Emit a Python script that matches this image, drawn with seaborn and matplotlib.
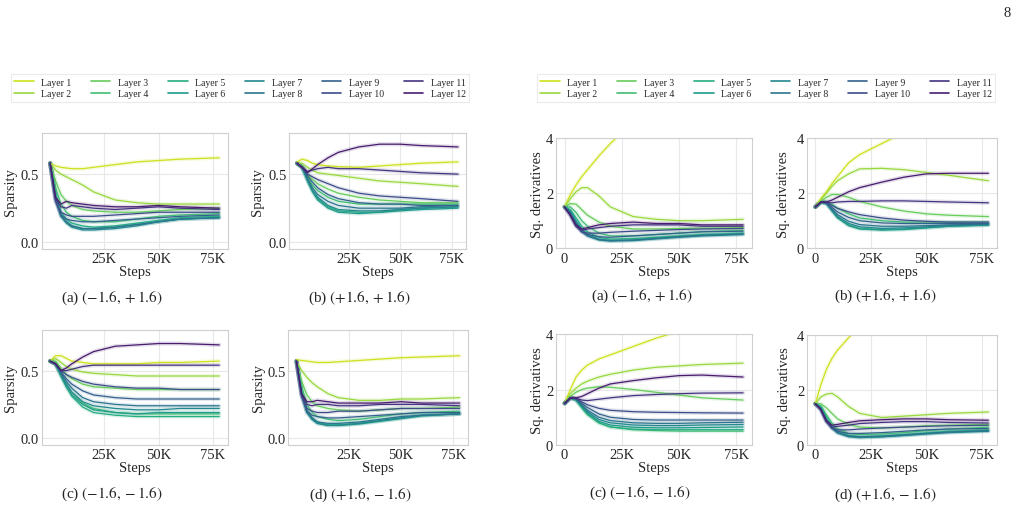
import numpy as np
import pandas as pd
import matplotlib
matplotlib.use("Agg")
import matplotlib.pyplot as plt
from matplotlib.lines import Line2D
import seaborn as sns

# ---------------- data ----------------
steps = [0, 2500, 5000, 7500, 10000, 15000, 20000, 30000, 40000, 50000, 60000, 78000]
layers = [f"Layer {i}" for i in range(1, 13)]

spars_a = [
    [0.58, 0.56, 0.55, 0.545, 0.54, 0.54, 0.55, 0.57, 0.59, 0.60, 0.61, 0.62],
    [0.58, 0.53, 0.50, 0.48, 0.46, 0.42, 0.37, 0.31, 0.29, 0.28, 0.28, 0.28],
    [0.58, 0.45, 0.35, 0.30, 0.27, 0.24, 0.23, 0.22, 0.22, 0.23, 0.24, 0.25],
    [0.58, 0.40, 0.28, 0.22, 0.19, 0.16, 0.15, 0.15, 0.17, 0.19, 0.20, 0.21],
    [0.58, 0.36, 0.22, 0.17, 0.14, 0.12, 0.11, 0.12, 0.14, 0.16, 0.18, 0.19],
    [0.58, 0.34, 0.20, 0.15, 0.12, 0.10, 0.10, 0.11, 0.13, 0.15, 0.17, 0.18],
    [0.58, 0.33, 0.19, 0.14, 0.11, 0.09, 0.09, 0.10, 0.12, 0.15, 0.17, 0.18],
    [0.58, 0.32, 0.19, 0.15, 0.12, 0.10, 0.10, 0.11, 0.13, 0.15, 0.17, 0.18],
    [0.58, 0.30, 0.20, 0.17, 0.16, 0.15, 0.15, 0.16, 0.17, 0.18, 0.19, 0.20],
    [0.58, 0.30, 0.22, 0.20, 0.19, 0.19, 0.19, 0.20, 0.21, 0.22, 0.22, 0.22],
    [0.58, 0.32, 0.26, 0.25, 0.27, 0.26, 0.25, 0.24, 0.25, 0.26, 0.25, 0.24],
    [0.58, 0.33, 0.28, 0.30, 0.29, 0.28, 0.27, 0.26, 0.26, 0.27, 0.26, 0.25],
]
spars_b = [
    [0.59, 0.61, 0.60, 0.58, 0.57, 0.56, 0.555, 0.55, 0.56, 0.57, 0.58, 0.59],
    [0.58, 0.58, 0.55, 0.53, 0.51, 0.50, 0.49, 0.47, 0.45, 0.44, 0.43, 0.41],
    [0.58, 0.56, 0.50, 0.46, 0.43, 0.39, 0.36, 0.33, 0.31, 0.30, 0.29, 0.29],
    [0.58, 0.55, 0.48, 0.42, 0.38, 0.33, 0.30, 0.28, 0.28, 0.28, 0.28, 0.28],
    [0.58, 0.55, 0.46, 0.38, 0.32, 0.26, 0.23, 0.22, 0.22, 0.24, 0.25, 0.26],
    [0.58, 0.55, 0.45, 0.37, 0.31, 0.25, 0.22, 0.21, 0.22, 0.23, 0.24, 0.25],
    [0.58, 0.55, 0.46, 0.38, 0.33, 0.27, 0.24, 0.23, 0.23, 0.24, 0.25, 0.26],
    [0.58, 0.55, 0.47, 0.40, 0.35, 0.30, 0.27, 0.25, 0.25, 0.25, 0.26, 0.27],
    [0.58, 0.55, 0.49, 0.44, 0.40, 0.35, 0.32, 0.29, 0.28, 0.28, 0.27, 0.27],
    [0.58, 0.55, 0.50, 0.48, 0.46, 0.43, 0.40, 0.36, 0.34, 0.33, 0.32, 0.30],
    [0.58, 0.55, 0.52, 0.53, 0.54, 0.55, 0.54, 0.54, 0.53, 0.52, 0.51, 0.50],
    [0.58, 0.55, 0.51, 0.54, 0.57, 0.62, 0.66, 0.70, 0.72, 0.72, 0.71, 0.70],
]
spars_c = [
    [0.57, 0.61, 0.61, 0.59, 0.57, 0.56, 0.55, 0.55, 0.55, 0.56, 0.56, 0.57],
    [0.57, 0.59, 0.56, 0.53, 0.51, 0.49, 0.48, 0.47, 0.46, 0.46, 0.46, 0.46],
    [0.57, 0.57, 0.52, 0.47, 0.44, 0.40, 0.38, 0.37, 0.36, 0.36, 0.36, 0.36],
    [0.57, 0.55, 0.47, 0.40, 0.34, 0.26, 0.22, 0.19, 0.18, 0.18, 0.18, 0.18],
    [0.57, 0.55, 0.46, 0.38, 0.31, 0.23, 0.19, 0.17, 0.16, 0.16, 0.16, 0.16],
    [0.57, 0.55, 0.46, 0.38, 0.32, 0.25, 0.21, 0.19, 0.18, 0.19, 0.19, 0.19],
    [0.57, 0.55, 0.47, 0.40, 0.34, 0.27, 0.24, 0.22, 0.21, 0.21, 0.22, 0.22],
    [0.57, 0.55, 0.48, 0.42, 0.37, 0.30, 0.27, 0.25, 0.24, 0.24, 0.24, 0.24],
    [0.57, 0.55, 0.49, 0.44, 0.40, 0.35, 0.32, 0.30, 0.29, 0.29, 0.29, 0.29],
    [0.57, 0.55, 0.50, 0.47, 0.45, 0.42, 0.40, 0.38, 0.37, 0.37, 0.36, 0.36],
    [0.57, 0.55, 0.50, 0.50, 0.51, 0.53, 0.54, 0.54, 0.54, 0.54, 0.54, 0.54],
    [0.57, 0.55, 0.50, 0.52, 0.55, 0.60, 0.64, 0.68, 0.69, 0.70, 0.70, 0.69],
]
spars_d = [
    [0.58, 0.575, 0.57, 0.565, 0.56, 0.56, 0.565, 0.575, 0.585, 0.595, 0.60, 0.61],
    [0.57, 0.50, 0.45, 0.41, 0.38, 0.33, 0.30, 0.28, 0.28, 0.29, 0.29, 0.30],
    [0.57, 0.42, 0.32, 0.27, 0.24, 0.22, 0.21, 0.20, 0.21, 0.22, 0.22, 0.23],
    [0.57, 0.38, 0.25, 0.19, 0.16, 0.14, 0.13, 0.14, 0.16, 0.18, 0.19, 0.20],
    [0.57, 0.35, 0.21, 0.15, 0.12, 0.10, 0.10, 0.11, 0.13, 0.15, 0.17, 0.18],
    [0.57, 0.34, 0.20, 0.14, 0.11, 0.095, 0.095, 0.105, 0.125, 0.145, 0.165, 0.18],
    [0.57, 0.33, 0.19, 0.14, 0.11, 0.095, 0.095, 0.11, 0.13, 0.15, 0.17, 0.18],
    [0.57, 0.32, 0.19, 0.15, 0.12, 0.11, 0.11, 0.12, 0.14, 0.16, 0.17, 0.18],
    [0.57, 0.31, 0.20, 0.17, 0.16, 0.15, 0.15, 0.16, 0.17, 0.18, 0.19, 0.19],
    [0.57, 0.31, 0.22, 0.20, 0.19, 0.19, 0.20, 0.20, 0.21, 0.22, 0.22, 0.22],
    [0.57, 0.32, 0.25, 0.24, 0.25, 0.25, 0.24, 0.24, 0.25, 0.25, 0.25, 0.24],
    [0.57, 0.33, 0.27, 0.27, 0.28, 0.27, 0.26, 0.26, 0.26, 0.27, 0.26, 0.26],
]
deriv_a = [
    [1.5, 1.95, 2.3, 2.6, 2.85, 3.35, 3.8, 4.6, 5.3, 6.0, 6.6, 7.5],
    [1.5, 1.8, 2.05, 2.2, 2.2, 1.9, 1.5, 1.15, 1.05, 1.0, 1.0, 1.05],
    [1.5, 1.62, 1.6, 1.4, 1.2, 0.95, 0.8, 0.7, 0.7, 0.72, 0.73, 0.75],
    [1.5, 1.5, 1.3, 1.0, 0.8, 0.55, 0.45, 0.45, 0.5, 0.55, 0.6, 0.65],
    [1.5, 1.4, 1.1, 0.8, 0.6, 0.4, 0.33, 0.35, 0.4, 0.45, 0.5, 0.55],
    [1.5, 1.35, 1.0, 0.7, 0.5, 0.33, 0.28, 0.3, 0.36, 0.42, 0.47, 0.52],
    [1.5, 1.3, 0.95, 0.65, 0.45, 0.3, 0.26, 0.28, 0.34, 0.4, 0.45, 0.5],
    [1.5, 1.3, 0.9, 0.6, 0.45, 0.32, 0.28, 0.3, 0.36, 0.42, 0.47, 0.52],
    [1.5, 1.25, 0.85, 0.6, 0.5, 0.42, 0.4, 0.45, 0.5, 0.55, 0.6, 0.62],
    [1.5, 1.2, 0.8, 0.6, 0.55, 0.55, 0.58, 0.62, 0.65, 0.68, 0.7, 0.72],
    [1.5, 1.2, 0.8, 0.65, 0.7, 0.75, 0.8, 0.85, 0.85, 0.85, 0.8, 0.8],
    [1.5, 1.2, 0.85, 0.7, 0.75, 0.85, 0.9, 0.95, 0.9, 0.9, 0.85, 0.85],
]
deriv_b = [
    [1.5, 1.8, 2.05, 2.35, 2.6, 3.1, 3.4, 3.8, 4.2, 4.5, 4.8, 5.2],
    [1.5, 1.75, 2.0, 2.25, 2.45, 2.7, 2.88, 2.9, 2.85, 2.75, 2.65, 2.45],
    [1.5, 1.7, 1.85, 1.95, 1.95, 1.85, 1.7, 1.5, 1.35, 1.25, 1.2, 1.15],
    [1.5, 1.68, 1.7, 1.6, 1.45, 1.25, 1.1, 1.0, 0.95, 0.95, 0.95, 0.95],
    [1.5, 1.68, 1.65, 1.4, 1.15, 0.85, 0.72, 0.68, 0.7, 0.75, 0.8, 0.85],
    [1.5, 1.68, 1.62, 1.35, 1.1, 0.82, 0.7, 0.66, 0.68, 0.74, 0.8, 0.84],
    [1.5, 1.68, 1.62, 1.38, 1.15, 0.9, 0.78, 0.72, 0.74, 0.78, 0.82, 0.86],
    [1.5, 1.68, 1.63, 1.42, 1.22, 0.98, 0.86, 0.8, 0.8, 0.82, 0.85, 0.88],
    [1.5, 1.68, 1.65, 1.48, 1.32, 1.12, 1.0, 0.92, 0.9, 0.9, 0.9, 0.9],
    [1.5, 1.68, 1.66, 1.55, 1.45, 1.32, 1.22, 1.1, 1.02, 0.98, 0.95, 0.95],
    [1.5, 1.68, 1.66, 1.65, 1.68, 1.7, 1.7, 1.72, 1.72, 1.7, 1.68, 1.65],
    [1.5, 1.68, 1.68, 1.75, 1.85, 2.05, 2.2, 2.4, 2.58, 2.7, 2.72, 2.72],
]
deriv_c = [
    [1.5, 2.0, 2.45, 2.7, 2.88, 3.1, 3.25, 3.55, 3.85, 4.1, 4.3, 4.6],
    [1.5, 1.85, 2.05, 2.2, 2.3, 2.45, 2.55, 2.7, 2.8, 2.85, 2.9, 2.95],
    [1.5, 1.75, 1.9, 2.0, 2.05, 2.1, 2.08, 2.0, 1.9, 1.8, 1.7, 1.62],
    [1.5, 1.7, 1.62, 1.35, 1.1, 0.8, 0.65, 0.55, 0.52, 0.5, 0.5, 0.5],
    [1.5, 1.7, 1.62, 1.35, 1.1, 0.8, 0.65, 0.57, 0.55, 0.55, 0.55, 0.55],
    [1.5, 1.7, 1.62, 1.38, 1.15, 0.85, 0.72, 0.64, 0.62, 0.62, 0.63, 0.65],
    [1.5, 1.7, 1.64, 1.42, 1.2, 0.92, 0.8, 0.72, 0.7, 0.7, 0.72, 0.74],
    [1.5, 1.7, 1.65, 1.45, 1.25, 1.0, 0.88, 0.8, 0.78, 0.78, 0.8, 0.82],
    [1.5, 1.7, 1.66, 1.5, 1.35, 1.12, 1.0, 0.92, 0.9, 0.9, 0.9, 0.9],
    [1.5, 1.7, 1.68, 1.55, 1.45, 1.32, 1.25, 1.2, 1.18, 1.17, 1.16, 1.15],
    [1.5, 1.7, 1.68, 1.62, 1.6, 1.65, 1.7, 1.78, 1.82, 1.85, 1.87, 1.88],
    [1.5, 1.7, 1.7, 1.75, 1.85, 2.05, 2.2, 2.32, 2.42, 2.5, 2.52, 2.45],
]
deriv_d = [
    [1.5, 2.2, 2.75, 3.15, 3.45, 3.9, 4.3, 5.0, 5.6, 6.2, 6.7, 7.5],
    [1.5, 1.75, 1.85, 1.88, 1.75, 1.4, 1.15, 1.0, 1.05, 1.1, 1.15, 1.2],
    [1.5, 1.5, 1.35, 1.15, 0.95, 0.75, 0.65, 0.62, 0.65, 0.7, 0.72, 0.75],
    [1.5, 1.42, 1.1, 0.8, 0.6, 0.42, 0.38, 0.4, 0.45, 0.52, 0.58, 0.65],
    [1.5, 1.38, 1.0, 0.7, 0.5, 0.35, 0.3, 0.33, 0.38, 0.44, 0.5, 0.55],
    [1.5, 1.35, 0.95, 0.65, 0.45, 0.32, 0.28, 0.3, 0.35, 0.42, 0.47, 0.52],
    [1.5, 1.33, 0.92, 0.62, 0.44, 0.3, 0.27, 0.3, 0.35, 0.4, 0.45, 0.5],
    [1.5, 1.32, 0.9, 0.62, 0.45, 0.33, 0.3, 0.32, 0.37, 0.42, 0.47, 0.52],
    [1.5, 1.3, 0.88, 0.62, 0.5, 0.42, 0.42, 0.45, 0.5, 0.55, 0.58, 0.6],
    [1.5, 1.28, 0.85, 0.62, 0.55, 0.55, 0.58, 0.62, 0.65, 0.68, 0.7, 0.72],
    [1.5, 1.28, 0.85, 0.65, 0.68, 0.72, 0.78, 0.82, 0.85, 0.85, 0.82, 0.8],
    [1.5, 1.3, 0.88, 0.72, 0.75, 0.82, 0.88, 0.92, 0.95, 0.95, 0.92, 0.9],
]
captions = ["(a) $(-1.6, +1.6)$", "(b) $(+1.6, +1.6)$",
            "(c) $(-1.6, -1.6)$", "(d) $(+1.6, -1.6)$"]
sparsity_ticks = [25000, 50000, 75000]
deriv_ticks = [0, 25000, 50000, 75000]
x_ticklabels_sp = ["25K", "50K", "75K"]
x_ticklabels_dv = ["0", "25K", "50K", "75K"]

# ---------------- style ----------------
sns.set_theme(style="whitegrid", rc={
    "grid.color": "#e8e8e8", "axes.edgecolor": "#cfcfcf", "axes.linewidth": 0.8,
    "grid.linewidth": 0.8,
})
plt.rcParams["font.family"] = ["Liberation Serif", "DejaVu Serif"]
plt.rcParams["mathtext.fontset"] = "stix"

W, H = 1023, 510
fig = plt.figure(figsize=(W / 100, H / 100), dpi=100)
pal = sns.color_palette("viridis_r", 12)


def rect(l, t, r, b):
    return [l / W, 1 - b / H, (r - l) / W, (b - t) / H]


def long_df(series):
    rows = []
    for lay, vals in zip(layers, series):
        for s, v in zip(steps, vals):
            rows.append((s, v, lay))
    return pd.DataFrame(rows, columns=["step", "value", "layer"])


panels = [
    (spars_a, (41.7, 134.3, 227.7, 250), "sp", 0, -0.131, (112, 298)),
    (spars_b, (289, 134.3, 466, 250), "sp", 1, -0.141, (359, 298)),
    (spars_c, (41.7, 331, 227.7, 446), "sp", 2, -0.131, (112, 494)),
    (spars_d, (288.3, 331, 467.7, 446), "sp", 3, -0.13, (360, 495)),
    (deriv_a, (555.7, 139, 752, 249.3), "dv", 0, -0.06, (642, 296)),
    (deriv_b, (806.7, 139, 997, 249.3), "dv", 1, -0.088, (885, 296)),
    (deriv_c, (555.7, 335, 752, 446), "dv", 2, -0.06, (640, 493)),
    (deriv_d, (806.7, 336, 997, 446), "dv", 3, -0.084, (885, 495)),
]

for data, r, kind, ci, ylx, cpos in panels:
    ax = fig.add_axes(rect(*r))
    df = long_df(data)
    sns.lineplot(data=df, x="step", y="value", hue="layer", palette=pal,
                 ax=ax, legend=False, linewidth=3.0, alpha=0.15)
    sns.lineplot(data=df, x="step", y="value", hue="layer", palette=pal,
                 ax=ax, legend=False, linewidth=0.9)
    ax.set_xlim(-3900, 81900)
    if kind == "sp":
        ax.set_ylim(-0.05, 0.8)
        ax.set_yticks([0.0, 0.5])
        ax.set_yticklabels(["0.0", "0.5"])
        ax.set_xticks(sparsity_ticks)
        ax.set_xticklabels(x_ticklabels_sp)
        ax.set_ylabel("Sparsity", fontsize=10.5)
    else:
        ax.set_ylim(0, 4)
        ax.set_yticks([0, 2, 4])
        ax.set_yticklabels(["0", "2", "4"])
        ax.set_xticks(deriv_ticks)
        ax.set_xticklabels(x_ticklabels_dv)
        ax.set_ylabel("Sq. derivatives", fontsize=10.5)
    ax.set_xlabel("Steps", fontsize=10.5, labelpad=0)
    ax.yaxis.set_label_coords(ylx, 0.5)
    ax.tick_params(axis="both", labelsize=10.5, length=0)
    ax.tick_params(axis="y", pad=1.8)
    ax.tick_params(axis="x", pad=2.5)
    for sp in ax.spines.values():
        sp.set_visible(True)
        sp.set_color("#cfcfcf")
    fig.text(cpos[0] / W, 1 - cpos[1] / H, captions[ci], ha="center",
             va="center", fontsize=11)

# legends
handles = [Line2D([0], [0], color=pal[i], lw=1.2) for i in range(12)]
for cx in (240, 766):
    leg = fig.legend(handles, layers, loc="center",
                     bbox_to_anchor=(cx / W, 1 - 89 / H), ncol=6,
                     fontsize=7, handlelength=2.0, handletextpad=0.8,
                     columnspacing=2.0, labelspacing=0.3, borderpad=0.35,
                     frameon=True, fancybox=False)
    leg.get_frame().set_edgecolor("#e6e6e6")
    leg.get_frame().set_linewidth(0.8)

fig.text(1006.7 / W, 1 - 13.3 / H, "8", ha="center", va="center", fontsize=10.5)

fig.savefig("out.png", dpi=100)
